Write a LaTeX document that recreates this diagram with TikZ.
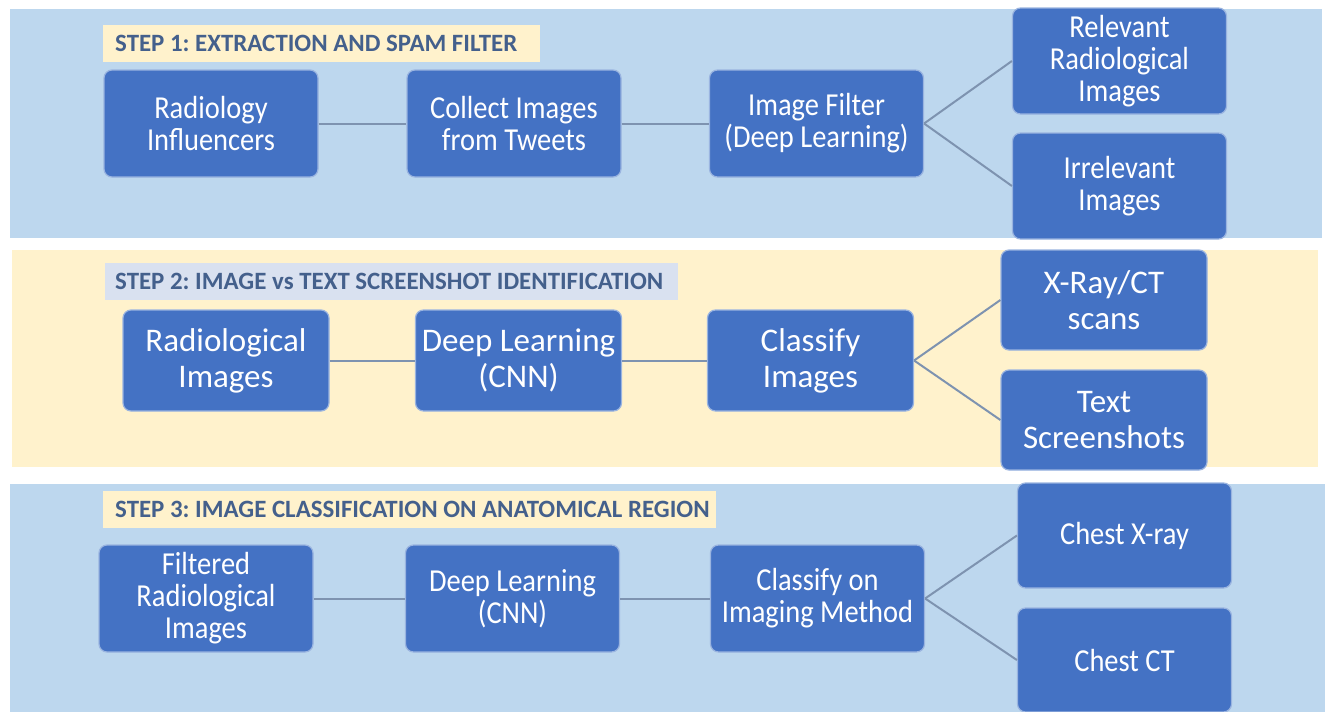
\documentclass[tikz,border=0pt]{standalone}
\usepackage{fontspec}
\setmainfont{Carlito}
\newfontfamily\narrowbody[FakeStretch=0.89]{Carlito}
\frenchspacing
\definecolor{bandblue}{HTML}{BDD7EE}
\definecolor{bandyellow}{HTML}{FFF2CC}
\definecolor{tagblue}{HTML}{D9E1F0}
\definecolor{boxfill}{HTML}{4472C4}
\definecolor{boxedge}{HTML}{9AB4E0}
\definecolor{linkcol}{HTML}{7E93B0}
\definecolor{tagtext}{HTML}{44608C}
\tikzset{
  tagbg/.style={anchor=north west, inner sep=0pt, minimum height=37pt},
  tagtxt/.style={anchor=west, inner sep=0pt, font=\fontsize{24.9}{28}\selectfont\bfseries, text=tagtext},
  stepbox/.style={rectangle, rounded corners=8pt, fill=boxfill, draw=boxedge, line width=1.2pt,
    text=white, align=center, inner sep=2pt},
  rowA/.style={stepbox, minimum width=214pt, minimum height=107pt, font=\narrowbody\fontsize{32}{32}\selectfont},
  rowB/.style={stepbox, minimum width=206pt, minimum height=101pt, font=\fontsize{33}{36}\selectfont},
  link/.style={draw=linkcol, line width=2pt}
}
\begin{document}
\begin{tikzpicture}[x=1pt,y=-1pt]
\useasboundingbox (0,0) rectangle (1325,712);
\fill[white] (0,0) rectangle (1325,712);

% background bands
\fill[bandblue] (10,9) rectangle (1322,238);
\fill[bandyellow] (12,250) rectangle (1318,467);
\fill[bandblue] (10,484) rectangle (1325,712);

% step headings
\node[tagbg, fill=bandyellow, minimum width=437pt] (t1) at (103,25) {};
\node[tagtxt] (t1txt) at ([xshift=12pt]t1.west) {STEP 1: EXTRACTION AND SPAM FILTER};
\node[tagbg, fill=tagblue, minimum width=573pt] (t2) at (105,263) {};
\node[tagtxt] (t2txt) at ([xshift=10pt]t2.west) {STEP 2: IMAGE vs TEXT SCREENSHOT IDENTIFICATION};
\node[tagbg, fill=bandyellow, minimum width=613pt] (t3) at (103,491) {};
\node[tagtxt] (t3txt) at ([xshift=12pt]t3.west) {STEP 3: IMAGE CLASSIFICATION ON ANATOMICAL REGION};

% step 1
\node[rowA] (a1) at (211,123.5) {Radiology\\Influencers};
\node[rowA] (a2) at (514,123.5) {Collect Images\\from Tweets};
\node[rowA] (a3) at (816.5,123.5) {Image Filter\\(Deep Learning)};
\node[rowA, minimum height=106pt] (a4) at (1119.5,61) {Relevant\\Radiological\\Images};
\node[rowA, minimum height=106pt] (a5) at (1119.5,186) {Irrelevant\\Images};
\draw[link] (a1.east) -- (a2.west);
\draw[link] (a2.east) -- (a3.west);
\draw[link] (a3.east) -- (a4.west);
\draw[link] (a3.east) -- (a5.west);

% step 2
\node[rowB] (b1) at (226,360.5) {Radiological\\Images};
\node[rowB] (b2) at (518.5,360.5) {Deep Learning\\(CNN)};
\node[rowB] (b3) at (810.5,360.5) {Classify\\Images};
\node[rowB, minimum height=100pt] (b4) at (1104,300) {X-Ray/CT\\scans};
\node[rowB, minimum height=100pt] (b5) at (1104,420) {Text\\Screenshots};
\draw[link] (b1.east) -- (b2.west);
\draw[link] (b2.east) -- (b3.west);
\draw[link] (b3.east) -- (b4.west);
\draw[link] (b3.east) -- (b5.west);

% step 3
\node[rowA] (c1) at (206,598.5) {Filtered\\Radiological\\Images};
\node[rowA] (c2) at (512.5,598.5) {Deep Learning\\(CNN)};
\node[rowA] (c3) at (817.5,598.5) {Classify on\\Imaging Method};
\node[rowA, minimum height=105pt] (c4) at (1124.5,535.5) {Chest X-ray};
\node[rowA, minimum height=104pt] (c5) at (1124.5,660) {Chest CT};
\draw[link] (c1.east) -- (c2.west);
\draw[link] (c2.east) -- (c3.west);
\draw[link] (c3.east) -- (c4.west);
\draw[link] (c3.east) -- (c5.west);
\end{tikzpicture}
\end{document}
